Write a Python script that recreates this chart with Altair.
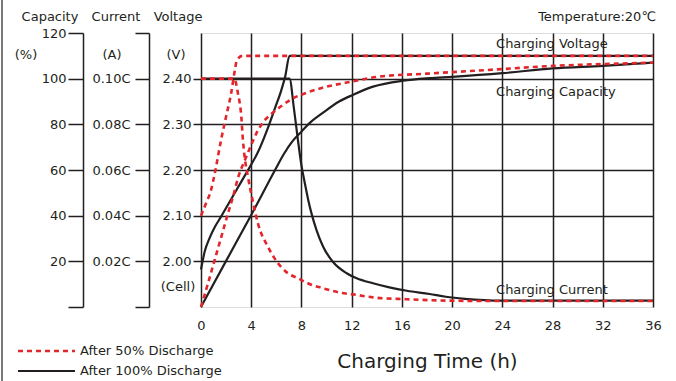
import altair as alt
import pandas as pd

FONT = "DejaVu Sans"
INK = "#231f20"
RED = "#e3262b"

hour_ticks = [0, 4, 8, 12, 16, 20, 24, 28, 32, 36]
level_ticks = [0, 20, 40, 60, 80, 100, 120]

# ---- After 50% discharge ----
t_v50 = [0, 0.4, 0.8, 1.1, 1.6, 2.0, 2.4, 2.7, 2.85, 3.3, 36]
volt_50 = [2.100, 2.127, 2.156, 2.193, 2.266, 2.317, 2.368, 2.419, 2.440, 2.450, 2.450]

t_i50 = [0, 2.65, 2.94, 3.21, 3.34, 3.47, 3.74, 4.14, 4.53, 5.33, 5.86, 6.92, 7.72,
         8.5, 9.73, 11.06, 12.4, 13.7, 16.4, 19.5, 24, 36]
curr_50 = [0.100, 0.100, 0.0936, 0.0834, 0.0731, 0.066, 0.057, 0.046, 0.0367, 0.0264,
           0.0213, 0.0148, 0.0126, 0.0104, 0.0082, 0.0063, 0.0053, 0.0042, 0.0034,
           0.0028, 0.0026, 0.0026]

t_c50 = [0, 0.56, 1.09, 1.62, 2.15, 2.55, 3.0, 3.47, 4.0, 4.5, 5.0, 5.6, 6.4, 7.2,
         8.4, 9.73, 12.1, 14.2, 18, 24, 28, 32, 36]
cap_50 = [0, 10.4, 20.6, 30.8, 41, 48.3, 57.5, 64, 71, 77, 81.3, 84.5, 88, 91,
          93.8, 96.1, 98.8, 100.9, 102.2, 104.2, 105.6, 106.4, 107]

# ---- After 100% discharge ----
t_v100 = [0, 0.3, 0.7, 1.1, 1.6, 2.4, 3.2, 4.0, 4.5, 5.3, 5.9, 6.4, 6.7, 7.05, 36]
volt_100 = [1.982, 2.022, 2.052, 2.075, 2.098, 2.136, 2.174, 2.212, 2.237, 2.290,
            2.336, 2.375, 2.404, 2.450, 2.450]

t_i100 = [0, 7.05, 7.4, 7.7, 8.0, 8.27, 8.54, 8.8, 9.2, 9.73, 10.5, 11.6, 12.4, 13.7,
          15.0, 16.4, 18.2, 19.5, 21, 24, 36]
curr_100 = [0.100, 0.100, 0.087, 0.074, 0.062, 0.0542, 0.0469, 0.041, 0.0337, 0.0264,
            0.0198, 0.0148, 0.0126, 0.0104, 0.0086, 0.0071, 0.0057, 0.0045, 0.0036,
            0.0028, 0.0028]

t_c100 = [0, 2, 4, 5.9, 6.6, 7.2, 8.0, 8.6, 9.7, 11, 12.1, 13.7, 16.1, 18.2, 20, 24,
          28, 32, 36]
cap_100 = [0, 20.2, 40.3, 60, 67, 72, 76.8, 80.3, 85, 90, 92.9, 96.5, 99.1, 100.2,
           100.8, 102.4, 104.5, 105.6, 107]

series_names = ["After 100% Discharge", "After 50% Discharge"]

# convert every quantity to the shared 0-120 plotting level
def volt_level(v):
    return (v - 1.9) * 200.0

def curr_level(i):
    return i * 1000.0

rows = []
def add(series, qty, ts, us):
    for k, (t, u) in enumerate(zip(ts, us)):
        rows.append({"t": t, "u": u, "series": series, "qty": qty, "k": k})

add(series_names[0], "voltage", t_v100, [volt_level(v) for v in volt_100])
add(series_names[0], "current", t_i100, [curr_level(i) for i in curr_100])
add(series_names[0], "capacity", t_c100, cap_100)
add(series_names[1], "voltage", t_v50, [volt_level(v) for v in volt_50])
add(series_names[1], "current", t_i50, [curr_level(i) for i in curr_50])
add(series_names[1], "capacity", t_c50, cap_50)
df = pd.DataFrame(rows)

ann_text = ["Charging Voltage", "Charging Capacity", "Charging Current"]
ann_t = [23.5, 23.5, 23.5]
ann_u = [115.3, 94.3, 7.5]
df_ann = pd.DataFrame({"t": ann_t, "u": ann_u, "text": ann_text})

W, H = 452, 274
PL, PT = 201, 33

xscale = alt.Scale(domain=[0, 36], nice=False, zero=False)
yscale = alt.Scale(domain=[0, 120], nice=False, zero=False)

xenc = alt.X("t:Q", scale=xscale, axis=alt.Axis(
    values=hour_ticks, grid=True, gridColor=INK, gridWidth=1.5, gridOpacity=1,
    domain=False, ticks=False, labelPadding=12, labelFontSize=13, labelColor=INK,
    labelFont=FONT, title="Charging Time (h)", titleFont=FONT, titleFontSize=20,
    titleFontWeight="normal", titleColor=INK, titlePadding=19, labelFlush=False))

axis_common = dict(labelFontSize=13, labelColor=INK, labelFont=FONT, title=None,
                   tickColor=INK, tickWidth=1.5, domainColor=INK, domainWidth=1.5,
                   orient="left", labelFlush=False, labelOverlap=False)

cap_axis = alt.Axis(values=level_ticks, offset=118, tickSize=15, labelPadding=2,
                    grid=False, labelExpr="datum.value == 0 ? '' : datum.value",
                    **axis_common)
cur_axis = alt.Axis(values=level_ticks, offset=52, tickSize=14, labelPadding=5,
                    grid=False,
                    labelExpr="(datum.value == 0 || datum.value == 120) ? '' : format(datum.value / 1000, '.2f') + 'C'",
                    **axis_common)
volt_axis = alt.Axis(values=[20, 40, 60, 80, 100], offset=0, tickSize=8, labelPadding=2,
                     grid=True, gridColor=INK, gridWidth=1.5, gridOpacity=1, domain=False,
                     labelExpr="format(1.9 + datum.value / 200, '.2f')", **axis_common)

base = alt.Chart(df)

cap_layer = base.mark_point(opacity=0).encode(x=xenc, y=alt.Y("u:Q", scale=yscale, axis=cap_axis))
cur_layer = base.mark_point(opacity=0).encode(x=xenc, y=alt.Y("u:Q", scale=yscale, axis=cur_axis))

black_lines = base.transform_filter(alt.datum.series == series_names[0]).mark_line(
    interpolate="monotone", strokeWidth=2.2, color=INK).encode(
    x=xenc, y=alt.Y("u:Q", scale=yscale, axis=volt_axis), detail="qty:N", order="k:Q")

red_lines = base.transform_filter(alt.datum.series == series_names[1]).mark_line(
    interpolate="monotone", strokeWidth=2.6, color=RED, strokeDash=[5, 4]).encode(
    x=xenc, y=alt.Y("u:Q", scale=yscale, axis=None), detail="qty:N", order="k:Q")

ann = alt.Chart(df_ann).mark_text(align="left", baseline="middle", font=FONT,
                                  fontSize=13, color=INK).encode(
    x=xenc, y=alt.Y("u:Q", scale=yscale, axis=None), text="text:N")

one = pd.DataFrame({"a": [0]})

def label(txt, px, py, align="center", size=13):
    return alt.Chart(one).mark_text(align=align, baseline="middle", font=FONT,
                                    fontSize=size, color=INK).encode(
        x=alt.value(px - PL), y=alt.value(py - PT), text=alt.value(txt))

texts = [label("Capacity", 50, 17), label("Current", 116, 17), label("Voltage", 178, 17),
         label("Temperature:20℃", 656, 17, align="right"),
         label("(%)", 26, 55), label("(A)", 112, 55), label("(V)", 176, 55),
         label("(Cell)", 178, 287)]

legend_red = alt.Chart(one).mark_rule(color=RED, strokeWidth=2.6, strokeDash=[5, 4]).encode(
    x=alt.value(18 - PL), x2=alt.value(75 - PL), y=alt.value(351 - PT))
legend_black = alt.Chart(one).mark_rule(color=INK, strokeWidth=2.2).encode(
    x=alt.value(18 - PL), x2=alt.value(75 - PL), y=alt.value(371 - PT))
legend_txt = [label(series_names[1], 80, 351, align="left"),
              label(series_names[0], 80, 371, align="left")]

border = alt.Chart(one).mark_rule(color=INK, strokeWidth=1.2).encode(
    x=alt.value(2 - PL), y=alt.value(-PT), y2=alt.value(381 - PT))

chart = alt.layer(
    cap_layer, cur_layer, black_lines, red_lines, ann, *texts,
    legend_red, legend_black, *legend_txt, border
).resolve_axis(y="independent").properties(
    width=W, height=H,
    autosize=alt.AutoSizeParams(type="none"),
    padding={"left": PL, "top": PT, "right": 676 - PL - W, "bottom": 381 - PT - H},
).configure_view(fill="#f3f3f6", stroke="#3a3a3a", strokeWidth=1.5).configure(
    background="white", font=FONT)

chart.save("out.html", embed_options={"renderer": "svg", "actions": False})
